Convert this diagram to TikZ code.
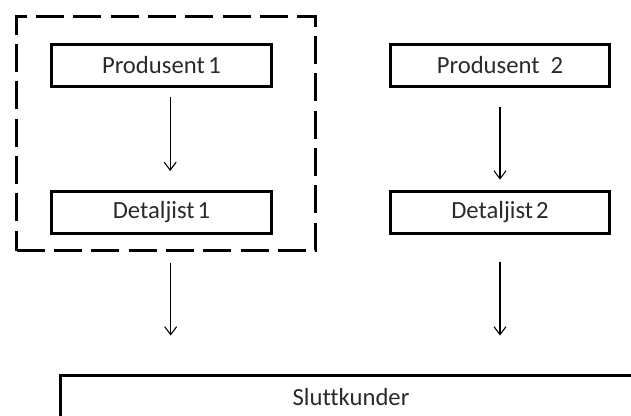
\documentclass[tikz,border=0pt]{standalone}
\usepackage{fontspec}
\setmainfont{Carlito}[Ligatures=NoCommon]
\usetikzlibrary{arrows.meta}
\definecolor{txt}{HTML}{2A2A2A}
\begin{document}
\begin{tikzpicture}[x=0.75pt,y=-0.75pt,
  box/.style={draw=black,line width=2.2pt,minimum width=165pt,minimum height=32pt,inner sep=0pt,text=txt,font=\fontsize{18.5}{22}\selectfont},
  arr/.style={draw=black,line width=0.8pt,-{Straight Barb[length=6pt,width=9pt,line width=0.8pt]}},
  grpbox/.style={draw=black,line width=2.2pt,dash pattern=on 21pt off 7pt,minimum width=224pt,minimum height=175.5pt,inner sep=0pt}]
\useasboundingbox (0,0) rectangle (631,415);
\node[grpbox] (grp) at (166,133.5) {};
\node[box] (p1) at (161.5,65.5) {Produsent\hspace{0.15em}1};
\node[box] (d1) at (161.5,212.5) {Detaljist\hspace{0.12em}1};
\node[box,minimum width=164pt] (p2) at (500,65.5) {Produsent\ \ 2};
\node[box,minimum width=164pt] (d2) at (500,212.5) {Detaljist\hspace{0.12em}2};
\node[box,minimum width=436pt,minimum height=32pt] (s) at (351,397) {Sluttkunder};
\draw[arr,shorten <=6.5pt,shorten >=14pt] ([xshift=6.5pt]p1.south) -- ([xshift=6.5pt]d1.north);
\draw[arr,shorten <=14pt,shorten >=7.5pt] (p2.south) -- (d2.north);
\draw[arr,shorten <=8pt,shorten >=29pt] ([xshift=3.5pt]grp.south) -- ([xshift=3.5pt]grp.south |- s.north);
\draw[arr,shorten <=20pt,shorten >=29pt] (d2.south) -- (d2.south |- s.north);
\end{tikzpicture}
\end{document}
